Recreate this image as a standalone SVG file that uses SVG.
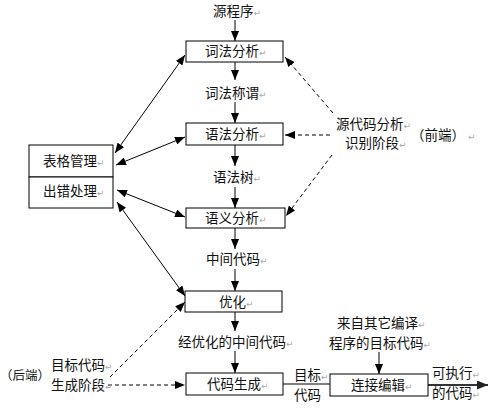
<svg xmlns="http://www.w3.org/2000/svg" width="496" height="413" viewBox="0 0 496 413">
<defs>
<marker id="ah" markerUnits="userSpaceOnUse" markerWidth="10" markerHeight="8" refX="10" refY="4" orient="auto-start-reverse">
<path d="M0,0 L10,4 L0,8 z" fill="#000"/>
</marker>
<marker id="ah2" markerUnits="userSpaceOnUse" markerWidth="11" markerHeight="9" refX="11" refY="4.5" orient="auto">
<path d="M0,0 L11,4.5 L0,9 z" fill="#222"/>
</marker>
</defs>
<style>
text{font-family:"Noto Sans CJK SC","Noto Sans CJK JP",sans-serif;font-size:13.5px;fill:#111}
.m{font-family:"DejaVu Sans",sans-serif;font-size:9px;fill:#aaa}
.box{fill:#fff;stroke:#000;stroke-width:1}
.ln{stroke:#000;stroke-width:1;fill:none}
.a{marker-end:url(#ah)}
.d{marker-start:url(#ah);marker-end:url(#ah)}
.ds{stroke-dasharray:4,3}
</style>
<rect width="496" height="413" fill="#fff"/>
<g id="connectors">
<line class="ln a" x1="235" y1="20" x2="235" y2="41"/>
<line class="ln a" x1="235" y1="62" x2="235" y2="80"/>
<line class="ln a" x1="235" y1="102" x2="235" y2="123"/>
<line class="ln a" x1="235" y1="145" x2="235" y2="166"/>
<line class="ln a" x1="235" y1="187" x2="235" y2="208"/>
<line class="ln a" x1="235" y1="228" x2="235" y2="249"/>
<line class="ln a" x1="235" y1="269" x2="235" y2="291"/>
<line class="ln a" x1="235" y1="312" x2="235" y2="331"/>
<line class="ln a" x1="235" y1="351" x2="235" y2="373"/>
<line class="ln d" x1="115" y1="153" x2="185" y2="55"/>
<line class="ln d" x1="116" y1="165" x2="185" y2="137"/>
<line class="ln d" x1="117" y1="190" x2="185" y2="217"/>
<line class="ln d" x1="117" y1="202" x2="185" y2="296"/>
<line class="ln a ds" x1="333" y1="113" x2="285" y2="57"/>
<line class="ln a ds" x1="330" y1="135" x2="285" y2="135"/>
<line class="ln a ds" x1="332" y1="155" x2="286" y2="216"/>
<line class="ln a ds" x1="110" y1="377" x2="185" y2="302"/>
<line class="ln a ds" x1="108" y1="385" x2="185" y2="385"/>
<line class="ln a" x1="379" y1="352" x2="379" y2="374"/>
<line class="ln" x1="283" y1="384" x2="330" y2="384"/>
<line x1="428" y1="385" x2="488" y2="385" stroke="#333" stroke-width="2" marker-end="url(#ah2)"/>
</g>
<g id="n-source"><text x="213" y="16">源程序<tspan class="m">↵</tspan></text></g>
<g id="n-lex"><rect class="box" x="186" y="41" width="97" height="21"/><text x="205" y="56">词法分析<tspan class="m">↵</tspan></text></g>
<g id="n-tokens"><text x="205" y="98">词法称谓<tspan class="m">↵</tspan></text></g>
<g id="n-syn"><rect class="box" x="186" y="123" width="97" height="22"/><text x="205" y="139">语法分析<tspan class="m">↵</tspan></text></g>
<g id="n-tree"><text x="213" y="182">语法树<tspan class="m">↵</tspan></text></g>
<g id="n-sem"><rect class="box" x="186" y="208" width="99" height="20"/><text x="205" y="223">语义分析<tspan class="m">↵</tspan></text></g>
<g id="n-ir"><text x="206" y="264">中间代码<tspan class="m">↵</tspan></text></g>
<g id="n-opt"><rect class="box" x="185" y="291" width="97" height="21"/><text x="219" y="307">优化<tspan class="m">↵</tspan></text></g>
<g id="n-optir"><text x="178" y="347">经优化的中间代码<tspan class="m">↵</tspan></text></g>
<g id="n-gen"><rect class="box" x="186" y="373" width="97" height="22"/><text x="207" y="389">代码生成<tspan class="m">↵</tspan></text></g>
<g id="n-tgt"><text x="294" y="380">目标<tspan class="m">↵</tspan></text><text x="294" y="400">代码</text></g>
<g id="n-link"><rect class="box" x="330" y="374" width="98" height="22"/><text x="351" y="390">连接编辑<tspan class="m">↵</tspan></text></g>
<g id="n-other"><text x="337" y="328">来自其它编译<tspan class="m">↵</tspan></text><text x="329" y="348">程序的目标代码<tspan class="m">↵</tspan></text></g>
<g id="n-exe"><text x="432" y="378">可执行<tspan class="m">↵</tspan></text><text x="432" y="398">的代码<tspan class="m">↵</tspan></text></g>
<g id="n-table"><rect class="box" x="29" y="145" width="84" height="32"/><text x="43" y="166">表格管理<tspan class="m">↵</tspan></text></g>
<g id="n-error"><rect class="box" x="29" y="177" width="84" height="31"/><text x="43" y="196">出错处理<tspan class="m">↵</tspan></text></g>
<g id="n-front"><text x="336" y="129">源代码分析<tspan class="m">↵</tspan></text><text x="345" y="148">识别阶段<tspan class="m">↵</tspan></text><text x="411" y="140">（前端）<tspan class="m" dx="3">↵</tspan></text></g>
<g id="n-back"><text x="0" y="380" style="font-size:12.5px">（后端）</text><text x="51" y="370">目标代码<tspan class="m">↵</tspan></text><text x="51" y="390">生成阶段<tspan class="m">↵</tspan></text></g>
</svg>
